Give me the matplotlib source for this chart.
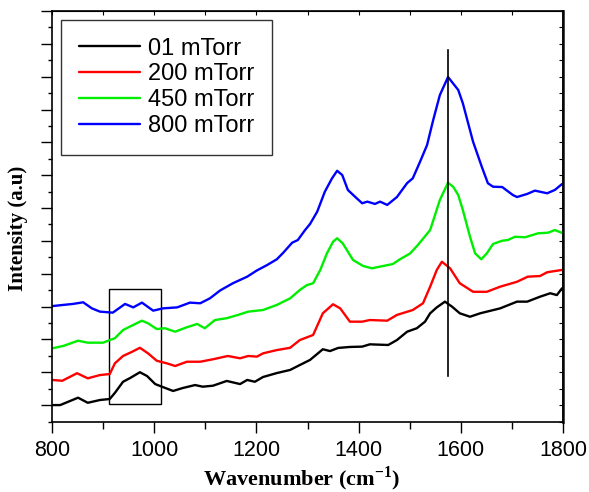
import matplotlib
matplotlib.use("Agg")
import matplotlib.pyplot as plt
from matplotlib.patches import Rectangle
from matplotlib.ticker import MultipleLocator, NullFormatter

plt.rcParams["mathtext.fontset"] = "custom"
plt.rcParams["mathtext.rm"] = "Liberation Serif"
plt.rcParams["mathtext.bf"] = "Liberation Serif:bold"

# ---- data ----
labels = ["01 mTorr", "200 mTorr", "450 mTorr", "800 mTorr"]
colors = ["#000000", "#ff0000", "#00ee00", "#0000ff"]

wn_01 = [801, 816, 851, 870, 894, 913, 923, 939, 953, 972, 986, 1002, 1015, 1037, 1056,
         1080, 1095, 1115, 1142, 1168, 1182, 1197, 1213, 1240, 1266, 1285, 1305, 1330,
         1344, 1360, 1383, 1407, 1422, 1458, 1475, 1495, 1514, 1530, 1540, 1553, 1569,
         1583, 1598, 1618, 1638, 1651, 1677, 1710, 1730, 1755, 1775, 1788, 1798]
in_01 = [1.00, 1.00, 1.45, 1.14, 1.31, 1.37, 1.74, 2.42, 2.65, 3.00, 2.77, 2.28, 2.12, 1.86,
         2.04, 2.22, 2.12, 2.18, 2.47, 2.28, 2.53, 2.42, 2.71, 2.95, 3.14, 3.44, 3.75, 4.40,
         4.29, 4.48, 4.54, 4.56, 4.70, 4.66, 4.96, 5.47, 5.68, 6.08, 6.59, 6.95, 7.30,
         6.99, 6.59, 6.38, 6.59, 6.69, 6.89, 7.30, 7.30, 7.60, 7.81, 7.70, 8.11]

wn_200 = [801, 820, 849, 870, 894, 913, 923, 939, 957, 972, 988, 1005, 1025, 1041, 1064,
          1090, 1115, 1144, 1168, 1184, 1201, 1213, 1240, 1266, 1285, 1311, 1330, 1350,
          1364, 1383, 1407, 1422, 1456, 1475, 1506, 1526, 1540, 1553, 1563, 1579, 1598,
          1624, 1651, 1677, 1710, 1731, 1755, 1769, 1798]
in_200 = [2.53, 2.48, 2.94, 2.63, 2.83, 2.89, 3.54, 3.99, 4.25, 4.49, 4.15, 3.70, 3.54, 3.38,
          3.64, 3.64, 3.79, 3.99, 3.85, 3.99, 3.95, 4.15, 4.35, 4.49, 4.96, 5.27, 6.59, 7.14,
          6.89, 6.08, 6.08, 6.18, 6.14, 6.49, 6.79, 7.20, 8.21, 9.23, 9.73, 9.33, 8.42,
          7.90, 7.90, 8.21, 8.51, 8.82, 8.86, 9.09, 9.23]

wn_450 = [801, 822, 851, 870, 900, 913, 923, 939, 959, 976, 988, 1005, 1021, 1041, 1064,
          1084, 1099, 1119, 1142, 1164, 1184, 1213, 1240, 1266, 1285, 1299, 1311, 1325,
          1338, 1350, 1358, 1369, 1389, 1409, 1426, 1448, 1467, 1481, 1501, 1516, 1540,
          1559, 1575, 1585, 1595, 1604, 1618, 1628, 1640, 1651, 1663, 1681, 1692, 1706,
          1726, 1751, 1771, 1784, 1800]
in_450 = [4.46, 4.60, 4.92, 4.80, 4.80, 4.96, 5.07, 5.57, 5.88, 6.14, 5.98, 5.63, 5.68, 5.47,
          5.74, 5.94, 5.68, 6.18, 6.29, 6.49, 6.69, 6.79, 7.10, 7.50, 8.01, 8.31, 8.42, 9.23,
          10.24, 10.95, 11.16, 10.85, 9.84, 9.47, 9.33, 9.47, 9.59, 9.88, 10.24, 10.75, 11.66,
          13.49, 14.54, 14.30, 13.79, 12.88, 11.25, 10.24, 9.88, 10.24, 10.81, 11.01, 11.05,
          11.25, 11.22, 11.46, 11.50, 11.66, 11.46]

wn_800 = [801, 822, 841, 861, 878, 894, 919, 943, 959, 976, 998, 1017, 1045, 1070, 1090,
          1109, 1129, 1154, 1182, 1201, 1221, 1240, 1252, 1270, 1281, 1295, 1305, 1319,
          1334, 1348, 1358, 1368, 1379, 1393, 1407, 1417, 1432, 1442, 1456, 1475, 1495,
          1506, 1520, 1534, 1546, 1559, 1575, 1595, 1604, 1624, 1641, 1653, 1663, 1681,
          1702, 1710, 1730, 1745, 1769, 1784, 1798]
in_800 = [7.03, 7.10, 7.16, 7.26, 6.89, 6.69, 6.63, 7.16, 6.95, 7.24, 6.75, 6.89, 6.95, 7.24,
          7.20, 7.50, 7.98, 8.42, 8.82, 9.20, 9.53, 9.88, 10.26, 10.89, 11.05, 11.65, 12.03,
          12.78, 14.00, 14.81, 15.27, 15.01, 14.10, 13.69, 13.29, 13.39, 13.25, 13.39, 13.19,
          13.67, 14.52, 14.81, 15.80, 16.84, 18.36, 19.88, 20.98, 20.19, 19.38, 17.04, 15.52,
          14.51, 14.30, 14.28, 13.79, 13.67, 13.86, 14.06, 13.90, 14.10, 14.46]

series_wn = [wn_01, wn_200, wn_450, wn_800]
series_in = [in_01, in_200, in_450, in_800]

box_x = [911, 1013]
box_y = [1.07, 8.07]
vline_x = 1575
vline_y = [2.77, 22.6]

W, H = 589, 492
# ---- figure ----
fig = plt.figure(figsize=(W/100, H/100), dpi=100)
ax = fig.add_axes([52/W, (H-421.5)/H, (563-52)/W, (421.5-11)/H])

for wn, inten, c, lab in zip(series_wn, series_in, colors, labels):
    ax.plot(wn, inten, color=c, lw=1.7, label=lab, solid_joinstyle="round",
            solid_capstyle="round")

ax.add_patch(Rectangle((box_x[0], box_y[0]), box_x[1]-box_x[0], box_y[1]-box_y[0],
                       fill=False, edgecolor="black", lw=1.0))
ax.plot([vline_x, vline_x], vline_y, color="black", lw=1.2)

ax.set_xlim(800, 1800)
ax.set_ylim(0, 25)

ax.xaxis.set_major_locator(MultipleLocator(200))
ax.xaxis.set_minor_locator(MultipleLocator(100))
ax.yaxis.set_minor_locator(MultipleLocator(1))
ax.set_yticks([1, 3, 5, 7, 9, 11, 13, 15, 17, 19, 21, 23, 25])
ax.yaxis.set_major_formatter(NullFormatter())

ax.tick_params(axis="x", which="major", direction="out", length=8, width=1,
               labelsize=15.5, pad=5, top=False)
ax.tick_params(axis="x", which="minor", direction="out", length=5, width=1, top=False)
ax.tick_params(axis="y", which="major", direction="out", length=8, width=1, right=False)
ax.tick_params(axis="y", which="minor", direction="out", length=3, width=1, right=False)
for lab in ax.get_xticklabels():
    lab.set_family("Liberation Sans")

# secondary ticks on top and right (inward)
axt = ax.secondary_xaxis("top")
axt.xaxis.set_major_locator(MultipleLocator(100))
axt.tick_params(direction="in", length=3, width=0.8, labeltop=False)
axr = ax.secondary_yaxis("right")
axr.yaxis.set_major_locator(MultipleLocator(1))
axr.tick_params(direction="in", length=3, width=0.8, labelright=False)
axr.spines["right"].set_linewidth(2)
axr.spines["right"].set_color("#333333")

for s in ax.spines.values():
    s.set_linewidth(1.2)

fig.text(302/W, (H-485)/H, "Wavenumber (cm$^{\\mathbf{-1}}$)", family="Liberation Serif",
         fontweight="bold", fontsize=16, ha="center", va="baseline")
fig.text(18/W, (H-228)/H, "Intensity (a.u)", family="Liberation Serif", fontweight="bold",
         fontsize=15, rotation=90, ha="center", va="center")

leg = ax.legend(loc="upper left", bbox_to_anchor=((61-52)/511, (421.5-20)/410.5),
                frameon=True, fancybox=False, edgecolor="#333333", framealpha=1,
                prop={"family": "Liberation Sans", "size": 17}, handlelength=2.6,
                handletextpad=0.35, borderpad=0.75, labelspacing=0.16, borderaxespad=0)
leg.get_frame().set_linewidth(1.0)
for line in leg.get_lines():
    line.set_linewidth(1.7)

fig.savefig("out.png", dpi=100)
